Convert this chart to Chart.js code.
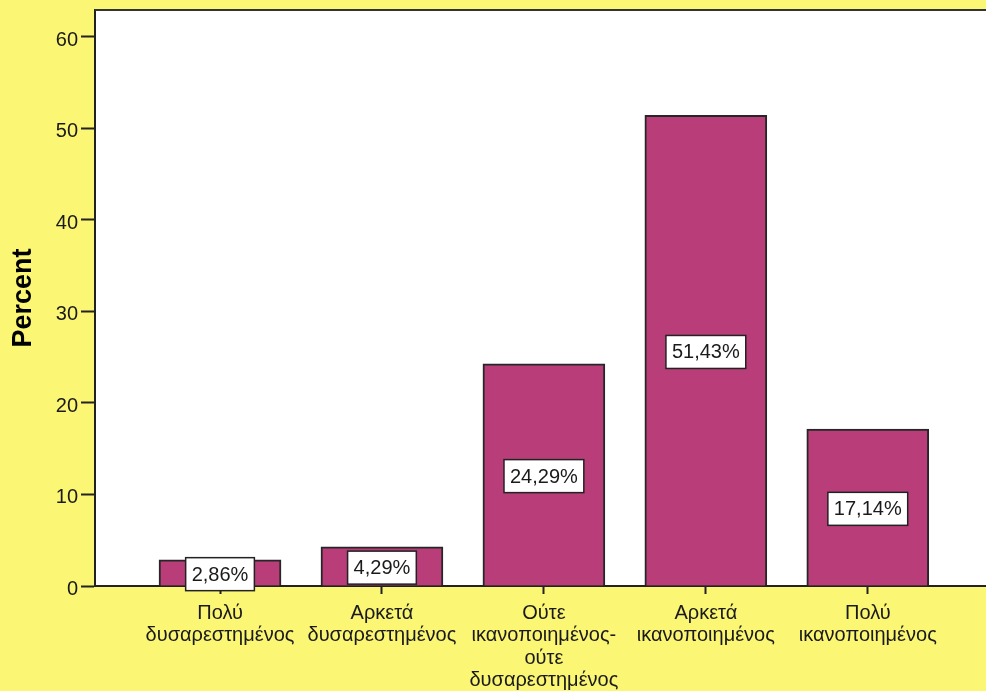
<!DOCTYPE html>
<html>
<head>
<meta charset="utf-8">
<script src="https://cdn.jsdelivr.net/npm/chart.js@4"></script>
<style>
  html, body { margin: 0; padding: 0; background: #fbf673; }
  canvas { display: block; }
</style>
</head>
<body>
<canvas id="chart" width="986" height="691"></canvas>
<script>
// satisfaction levels and their share of answers (%)
const categories = [
    ['Πολύ', 'δυσαρεστημένος'],
    ['Αρκετά', 'δυσαρεστημένος'],
    ['Ούτε', 'ικανοποιημένος-', 'ούτε', 'δυσαρεστημένος'],
    ['Αρκετά', 'ικανοποιημένος'],
    ['Πολύ', 'ικανοποιημένος']
];
const percents = [2.86, 4.29, 24.29, 51.43, 17.14];
const yTicks = [0, 10, 20, 30, 40, 50, 60];

const INK = '#1a1a1a';
const FONT = "'Liberation Sans', Arial, sans-serif";

// white plot panel + top frame line
const panel = {
    id: 'panel',
    beforeDraw(chart) {
        const { ctx, chartArea: a } = chart;
        ctx.save();
        ctx.fillStyle = '#ffffff';
        ctx.fillRect(a.left, a.top, a.right - a.left, a.bottom - a.top);
        ctx.restore();
    },
    afterDraw(chart) {
        const { ctx, chartArea: a } = chart;
        ctx.save();
        ctx.strokeStyle = '#333';
        ctx.lineWidth = 2;
        ctx.beginPath();
        ctx.moveTo(a.left, a.top);
        ctx.lineTo(a.right, a.top);
        ctx.stroke();
        ctx.restore();
    }
};

// boxed percentage label in the middle of each bar
const boxLabels = {
    id: 'boxLabels',
    afterDatasetsDraw(chart) {
        const { ctx } = chart;
        const meta = chart.getDatasetMeta(0);
        ctx.save();
        ctx.font = '20px ' + FONT;
        ctx.textAlign = 'center';
        ctx.textBaseline = 'middle';
        meta.data.forEach((bar, i) => {
            const txt = percents[i].toFixed(2).replace('.', ',') + '%';
            const w = ctx.measureText(txt).width + 12;
            const h = 33;
            const cx = bar.x;
            const cy = (bar.y + bar.base) / 2 + 1.5;
            ctx.fillStyle = '#ffffff';
            ctx.fillRect(cx - w / 2, cy - h / 2, w, h);
            ctx.strokeStyle = '#222';
            ctx.lineWidth = 1.5;
            ctx.strokeRect(cx - w / 2, cy - h / 2, w, h);
            ctx.fillStyle = INK;
            ctx.fillText(txt, cx, cy + 1);
        });
        ctx.restore();
    }
};

new Chart(document.getElementById('chart'), {
    type: 'bar',
    data: {
        datasets: [{
            data: percents.map((v, i) => ({ x: i, y: v })),
            backgroundColor: '#b83d79',
            borderColor: '#262626',
            borderWidth: 2,
            barThickness: 122
        }]
    },
    options: {
        responsive: false,
        animation: false,
        layout: { padding: { top: 10, right: 0, left: 0, bottom: 0 } },
        plugins: {
            legend: { display: false },
            tooltip: { enabled: false }
        },
        scales: {
            x: {
                type: 'linear',
                offset: false,
                min: -0.772,
                max: 4.73,
                afterBuildTicks: s => { s.ticks = categories.map((_, i) => ({ value: i })); },
                afterFit: s => { s.height = 105; s.paddingLeft = 0; s.paddingRight = 0; },
                border: { color: '#222', width: 2 },
                grid: { offset: false, drawOnChartArea: false, tickLength: 8, tickWidth: 2, tickColor: '#222' },
                ticks: {
                    autoSkip: false,
                    minRotation: 0,
                    maxRotation: 0,
                    padding: 8,
                    color: INK,
                    font: { family: FONT, size: 20, lineHeight: 1.12 },
                    callback: v => categories[v]
                }
            },
            y: {
                min: 0,
                max: 62.95,
                afterBuildTicks: s => { s.ticks = yTicks.map(v => ({ value: v })); },
                afterFit: s => { s.width = 95; s.paddingTop = 0; s.paddingBottom = 0; },
                border: { color: '#222', width: 2 },
                grid: { drawOnChartArea: false, tickLength: 14, tickWidth: 2, tickColor: '#222' },
                ticks: {
                    padding: 3,
                    labelOffset: 3,
                    color: INK,
                    font: { family: FONT, size: 20 }
                },
                title: {
                    display: true,
                    text: 'Percent',
                    color: '#000',
                    padding: { top: 7, bottom: 0 },
                    font: { family: FONT, size: 27, weight: 'bold' }
                }
            }
        }
    },
    plugins: [panel, boxLabels]
});
</script>
</body>
</html>
